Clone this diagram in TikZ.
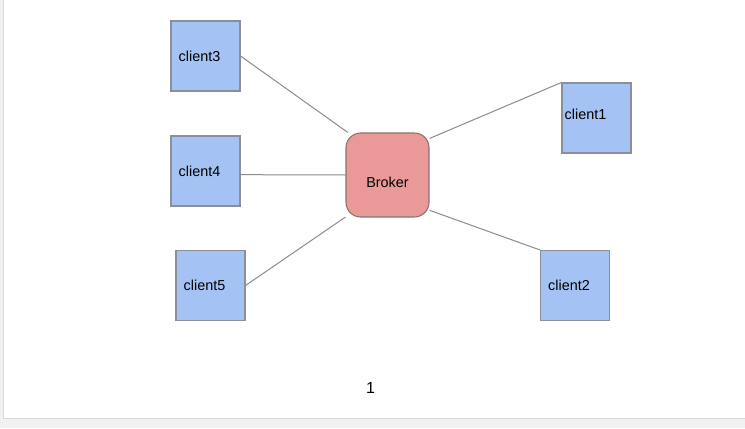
\documentclass[tikz,border=0pt]{standalone}
\usepackage{fontspec}
\setmainfont{Liberation Sans}
\begin{document}
\begin{tikzpicture}[x=0.75pt,y=-0.75pt,
  client/.style={draw=boxline,fill=clientfill,line width=0.8pt,minimum width=51.75pt,minimum height=52.5pt,inner sep=0pt},
  broker/.style={draw=brokerline,fill=brokerfill,line width=0.8pt,rounded corners=11pt,minimum width=62.25pt,minimum height=63pt,inner sep=0pt},
  lbl/.style={inner sep=0pt,font=\fontsize{10.8pt}{13pt}\selectfont,text=black},
  link/.style={draw=linkgray,line width=0.75pt}]
\definecolor{clientfill}{HTML}{A4C2F4}
\definecolor{boxline}{HTML}{8A8F99}
\definecolor{brokerfill}{HTML}{EA9999}
\definecolor{brokerline}{HTML}{8E7070}
\definecolor{linkgray}{HTML}{8C8C8C}
\definecolor{pagebg}{HTML}{F1F1F1}
\definecolor{pageedge}{HTML}{D9D9D9}
% page and background
\fill[pagebg] (0,0) rectangle (745,428);
\useasboundingbox (0,0) rectangle (745,428);
\fill[pageedge] (3,0) rectangle (745,419);
\fill[white] (4,0) rectangle (745,418);
% nodes
\node[client,label={[lbl,anchor=west,xshift=6pt]west:client3}] (c3) at (205.5,56) {};
\node[client,label={[lbl,anchor=west,xshift=6pt]west:client4}] (c4) at (205.5,171) {};
\node[client,label={[lbl,anchor=west,xshift=6pt]west:client5}] (c5) at (210.5,285.5) {};
\node[client,label={[lbl,anchor=west,xshift=2.25pt,yshift=3pt]west:client1}] (c1) at (596.5,118) {};
\node[client,label={[lbl,anchor=west,xshift=6pt]west:client2}] (c2) at (575,285.5) {};
\node[broker,label={[lbl,yshift=-5.25pt]center:Broker}] (b) at (387.5,175) {};
\node[lbl,font=\fontsize{12pt}{14pt}\selectfont] (pg) at (370.5,388) {1};
% links
\draw[link] (c3.east) -- (b.133);
\draw[link] (c4.-6.6) -- (b.180);
\draw[link] (c5.east) -- (b.225);
\draw[link] (b.41) -- (c1.north west);
\draw[link] (b.-40) -- (c2.north west);
\end{tikzpicture}
\end{document}
